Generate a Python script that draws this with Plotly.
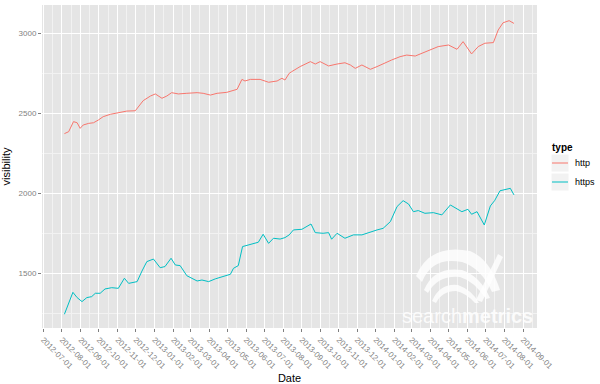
import plotly.graph_objects as go

http_dates = ["2012-08-05","2012-08-12","2012-08-20","2012-08-26","2012-08-31","2012-09-05","2012-09-14","2012-09-22","2012-09-30","2012-10-08",
              "2012-10-20","2012-11-02","2012-11-16","2012-11-30","2012-12-05","2012-12-13","2012-12-25","2013-01-02","2013-01-13","2013-01-21",
              "2013-01-29","2013-02-09","2013-02-23","2013-03-12","2013-03-22","2013-04-03","2013-04-14","2013-04-30","2013-05-17","2013-05-25",
              "2013-05-30","2013-06-08","2013-06-24","2013-07-08","2013-07-22","2013-07-30","2013-08-04","2013-08-11","2013-08-15","2013-08-29",
              "2013-09-15","2013-09-23","2013-10-01","2013-10-15","2013-10-29","2013-11-11","2013-11-20","2013-11-28","2013-12-09","2013-12-23",
              "2014-01-03","2014-01-16","2014-01-27","2014-02-10","2014-02-21","2014-03-07","2014-03-18","2014-03-29","2014-04-14","2014-05-01",
              "2014-05-15","2014-05-25","2014-06-08","2014-06-19","2014-06-30","2014-07-14","2014-07-22","2014-07-30","2014-08-09","2014-08-17"]
http_values = [2373,2385,2448,2441,2406,2427,2437,2441,2458,2479,
               2494,2504,2514,2516,2541,2579,2608,2621,2594,2608,
               2629,2621,2625,2629,2625,2614,2625,2631,2650,2712,
               2702,2712,2712,2694,2702,2719,2708,2750,2760,2792,
               2823,2808,2823,2796,2808,2816,2802,2781,2802,2775,
               2792,2816,2833,2854,2864,2858,2875,2896,2917,2927,
               2900,2948,2871,2917,2938,2942,3021,3066,3079,3062]

https_dates = ["2012-08-05","2012-08-19","2012-08-26","2012-09-03","2012-09-11","2012-09-19","2012-09-25","2012-10-03","2012-10-11","2012-10-22",
               "2012-11-02","2012-11-12","2012-11-19","2012-12-03","2012-12-11","2012-12-19","2012-12-30","2013-01-10","2013-01-18","2013-01-28",
               "2013-02-04","2013-02-12","2013-02-23","2013-03-03","2013-03-12","2013-03-20","2013-03-31","2013-04-11","2013-04-24","2013-05-06",
               "2013-05-11","2013-05-19","2013-05-26","2013-06-08","2013-06-21","2013-06-29","2013-07-08","2013-07-16","2013-07-27","2013-08-04",
               "2013-08-11","2013-08-18","2013-09-01","2013-09-16","2013-09-23","2013-10-06","2013-10-15","2013-10-20","2013-10-29","2013-11-11",
               "2013-11-25","2013-12-09","2013-12-23","2014-01-03","2014-01-13","2014-01-25","2014-02-05","2014-02-15","2014-02-24","2014-03-04",
               "2014-03-12","2014-03-23","2014-04-06","2014-04-20","2014-05-04","2014-05-15","2014-05-23","2014-06-02","2014-06-08","2014-06-17",
               "2014-06-29","2014-07-09","2014-07-16","2014-07-25","2014-08-05","2014-08-11","2014-08-17"]
https_values = [1244,1381,1348,1323,1348,1354,1375,1375,1402,1410,
                1406,1469,1437,1448,1514,1573,1589,1535,1542,1594,
                1552,1548,1485,1469,1452,1458,1448,1465,1479,1494,
                1531,1548,1667,1681,1694,1744,1687,1719,1714,1723,
                1740,1771,1775,1808,1754,1750,1754,1713,1750,1719,
                1740,1740,1760,1771,1781,1823,1917,1954,1933,1885,
                1892,1875,1879,1865,1927,1900,1885,1900,1869,1885,
                1802,1921,1954,2016,2025,2031,1990]

series_names = ["http", "https"]
series_colors = ["#F8766D", "#00BFC4"]
legend_title = "type"

tick_dates = ["2012-07-01","2012-08-01","2012-09-01","2012-10-01","2012-11-01","2012-12-01",
              "2013-01-01","2013-02-01","2013-03-01","2013-04-01","2013-05-01","2013-06-01",
              "2013-07-01","2013-08-01","2013-09-01","2013-10-01","2013-11-01","2013-12-01",
              "2014-01-01","2014-02-01","2014-03-01","2014-04-01","2014-05-01","2014-06-01",
              "2014-07-01","2014-08-01","2014-09-01"]
y_ticks = [1500, 2000, 2500, 3000]
y_minor = [1250, 1750, 2250, 2750]

FONT = "Liberation Sans, Arial, sans-serif"
ML, MR, MT, MB = 42, 63, 5, 56
W, H = 600, 384
PW, PH = W - ML - MR, H - MT - MB


def px(xp, yp):
    # pixel position -> paper coordinates (decorations only)
    return (xp - ML) / PW, (H - MB - yp) / PH


def path(points_cmds):
    out = []
    for cmd, pts in points_cmds:
        coords = " ".join("%.4f,%.4f" % px(a, b) for a, b in pts)
        out.append(cmd + " " + coords)
    return " ".join(out) + " Z"


fig = go.Figure()
for name, color, xs, ys in [(series_names[0], series_colors[0], http_dates, http_values),
                            (series_names[1], series_colors[1], https_dates, https_values)]:
    fig.add_trace(go.Scatter(x=xs, y=ys, mode="lines", name=name,
                             line=dict(color=color, width=1), showlegend=False))

# watermark (searchmetrics logo, approximate)
wm = "rgba(255,255,255,0.8)"
logo = [
    [("M", [(416, 276)]), ("Q", [(430, 243), (470, 251)]), ("Q", [(490, 259), (500, 290)]),
     ("L", [(492, 292)]), ("Q", [(481, 268), (462, 262)]), ("Q", [(432, 256), (422, 282)])],
    [("M", [(424, 290)]), ("Q", [(434, 266), (462, 270)]), ("Q", [(480, 276), (490, 298)]),
     ("L", [(486, 299)]), ("Q", [(474, 281), (460, 277)]), ("Q", [(438, 275), (428, 293)])],
    [("M", [(432, 301)]), ("Q", [(440, 283), (458, 285)]), ("Q", [(472, 290), (479, 303)]),
     ("L", [(475, 303)]), ("Q", [(466, 293), (456, 291)]), ("Q", [(442, 291), (436, 303)])],
    [("M", [(476, 300)]), ("L", [(498, 254)]), ("L", [(503, 257)]), ("L", [(482, 302)])],
]
for shp in logo:
    fig.add_shape(type="path", xref="paper", yref="paper", path=path(shp),
                  fillcolor=wm, line=dict(width=0), layer="above")

cx, cy = px(467, 316)
fig.add_annotation(x=cx, y=cy, xref="paper", yref="paper", xanchor="center", yanchor="middle",
                   showarrow=False, text="search<b>metrics</b>",
                   font=dict(family=FONT, size=20, color="rgba(255,255,255,0.85)"))

# legend drawn ggplot-style
tx, ty = px(550, 147)
fig.add_annotation(x=tx, y=ty, xref="paper", yref="paper", xanchor="left", yanchor="middle",
                   showarrow=False, text="<b>%s</b>" % legend_title,
                   font=dict(family=FONT, size=10, color="black"))
for i, (name, color) in enumerate(zip(series_names, series_colors)):
    yc = 163 + 19 * i
    x0, y0 = px(551, yc - 9)
    x1, y1 = px(569, yc + 9)
    fig.add_shape(type="rect", xref="paper", yref="paper", x0=x0, x1=x1, y0=y0, y1=y1,
                  fillcolor="#F2F2F2", line=dict(color="white", width=1))
    lx0, ly = px(552, yc)
    lx1, _ = px(568, yc)
    fig.add_shape(type="line", xref="paper", yref="paper", x0=lx0, x1=lx1, y0=ly, y1=ly,
                  line=dict(color=color, width=1))
    ax, ay = px(573, yc)
    fig.add_annotation(x=ax, y=ay, xref="paper", yref="paper", xanchor="left", yanchor="middle",
                       showarrow=False, text=name,
                       font=dict(family=FONT, size=9, color="black"))

fig.update_layout(
    width=W, height=H,
    margin=dict(l=ML, r=MR, t=MT, b=MB, autoexpand=False),
    paper_bgcolor="white", plot_bgcolor="#E5E5E5",
    font=dict(family=FONT, size=10, color="black"),
    showlegend=False,
    xaxis=dict(type="date", range=["2012-06-29", "2014-09-24"],
               tickmode="array", tickvals=tick_dates, ticktext=tick_dates,
               tickangle=45, tickfont=dict(size=8, color="#7F7F7F"),
               ticks="outside", ticklen=3, tickcolor="#7F7F7F",
               showgrid=True, gridcolor="white", gridwidth=1,
               minor=dict(dtick="M1", tick0="2012-07-16", showgrid=True,
                          gridcolor="#F2F2F2", gridwidth=0.5, ticks=""),
               zeroline=False, showline=False,
               title=dict(text="Date", font=dict(size=11), standoff=4)),
    yaxis=dict(range=[1158, 3177], tickmode="array", tickvals=y_ticks,
               tickfont=dict(size=8, color="#7F7F7F"),
               ticks="outside", ticklen=3, tickcolor="#7F7F7F",
               showgrid=True, gridcolor="white", gridwidth=1,
               minor=dict(tickvals=y_minor, showgrid=True,
                          gridcolor="#F2F2F2", gridwidth=0.5, ticks=""),
               zeroline=False, showline=False,
               title=dict(text="visibility", font=dict(size=11), standoff=6)),
)

fig.write_html("out.html")
